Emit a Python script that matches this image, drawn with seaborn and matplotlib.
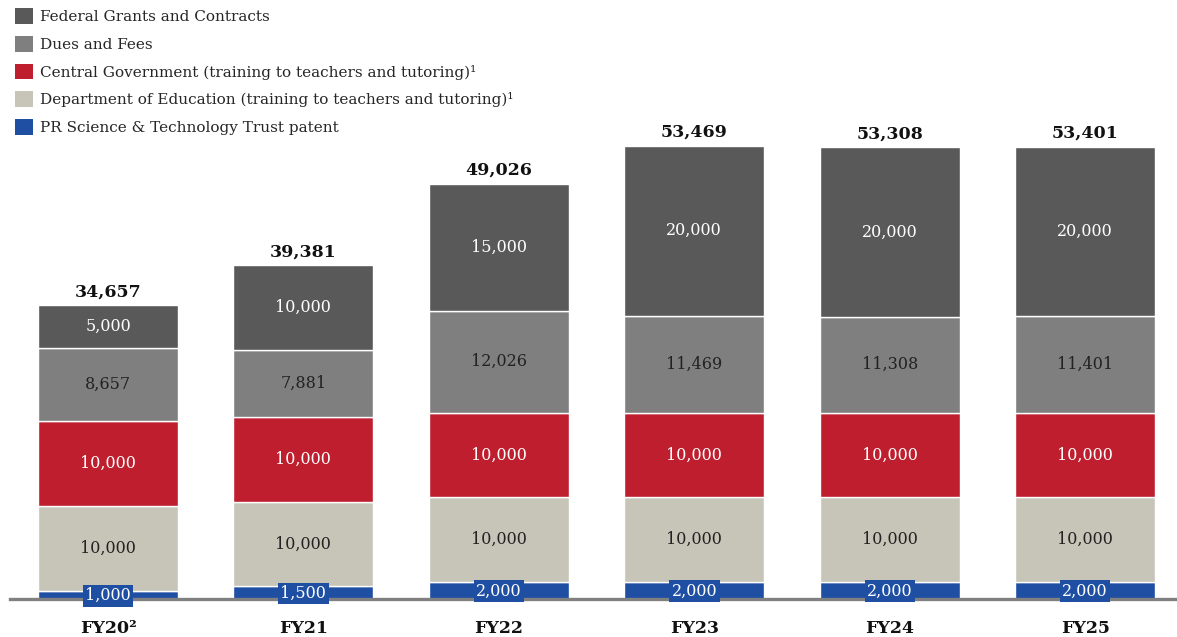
import numpy as np
import pandas as pd
import matplotlib
matplotlib.use("Agg")
import matplotlib.pyplot as plt
from matplotlib.patches import Patch
import seaborn as sns

# data (thousands)
categories = ["FY20\u00b2", "FY21", "FY22", "FY23", "FY24", "FY25"]
patent = [1000, 1500, 2000, 2000, 2000, 2000]
education = [10000, 10000, 10000, 10000, 10000, 10000]
central_gov = [10000, 10000, 10000, 10000, 10000, 10000]
dues_fees = [8657, 7881, 12026, 11469, 11308, 11401]
federal = [5000, 10000, 15000, 20000, 20000, 20000]

series_names = [
    "PR Science & Technology Trust patent",
    "Department of Education (training to teachers and tutoring)\u00b9",
    "Central Government (training to teachers and tutoring)\u00b9",
    "Dues and Fees",
    "Federal Grants and Contracts",
]
series_values = [patent, education, central_gov, dues_fees, federal]
colors = ["#1f4fa3", "#c7c5b8", "#be1e2d", "#7f7f7f", "#595959"]
text_colors = ["white", "#222222", "white", "#222222", "white"]

sns.set_style("white")
plt.rcParams["font.family"] = ["DejaVu Serif"]

fig = plt.figure(figsize=(11.77, 6.37), dpi=100)
ax = fig.add_axes([10 / 1177, 38 / 637, 1167 / 1177, 599 / 637])

bottom = np.zeros(len(categories))
for name, vals, col, tcol in zip(series_names, series_values, colors, text_colors):
    df = pd.DataFrame({"year": categories, "value": vals})
    sns.barplot(data=df, x="year", y="value", color=col, width=0.716,
                bottom=bottom, edgecolor="white", linewidth=1.0,
                saturation=1, ax=ax, errorbar=None)
    vals = np.array(vals)
    for i, v in enumerate(vals):
        if name.startswith("PR"):
            ax.text(i, bottom[i] + v / 2 - 100, f"{v:,}", ha="center", va="center",
                    color="white", fontsize=11.5, zorder=5,
                    bbox=dict(boxstyle="square,pad=0.15", fc=col, ec="none"))
        else:
            ax.text(i, bottom[i] + v / 2, f"{v:,}", ha="center", va="center",
                    color=tcol, fontsize=11.5)
    bottom = bottom + vals

totals = bottom
for i, t in enumerate(totals):
    ax.text(i, t + 600, f"{int(t):,}", ha="center", va="bottom",
            fontsize=12.5, fontweight="bold", color="#111111")

ax.set_xlim(-0.5015, 5.47)
ax.set_ylim(0, 70720)
ax.set_xlabel("")
ax.set_ylabel("")
ax.set_yticks([])
ax.tick_params(axis="x", length=0, pad=15)
for lab in ax.get_xticklabels():
    lab.set_fontweight("bold")
    lab.set_fontsize(12.5)
    lab.set_color("#111111")
for s in ["top", "left", "right"]:
    ax.spines[s].set_visible(False)
ax.spines["bottom"].set_color("#808080")
ax.spines["bottom"].set_linewidth(2.4)
ax.spines["bottom"].set_zorder(4)

handles = [Patch(facecolor=c, edgecolor="none") for c in colors[::-1]]
fig.legend(handles, series_names[::-1], loc="upper left",
           bbox_to_anchor=(9 / 1177, 1 - 2 / 637), frameon=False,
           fontsize=11, handlelength=1.2, handleheight=1.2,
           handletextpad=0.45, labelspacing=0.77, borderaxespad=0)

fig.savefig("out.png", dpi=100)
